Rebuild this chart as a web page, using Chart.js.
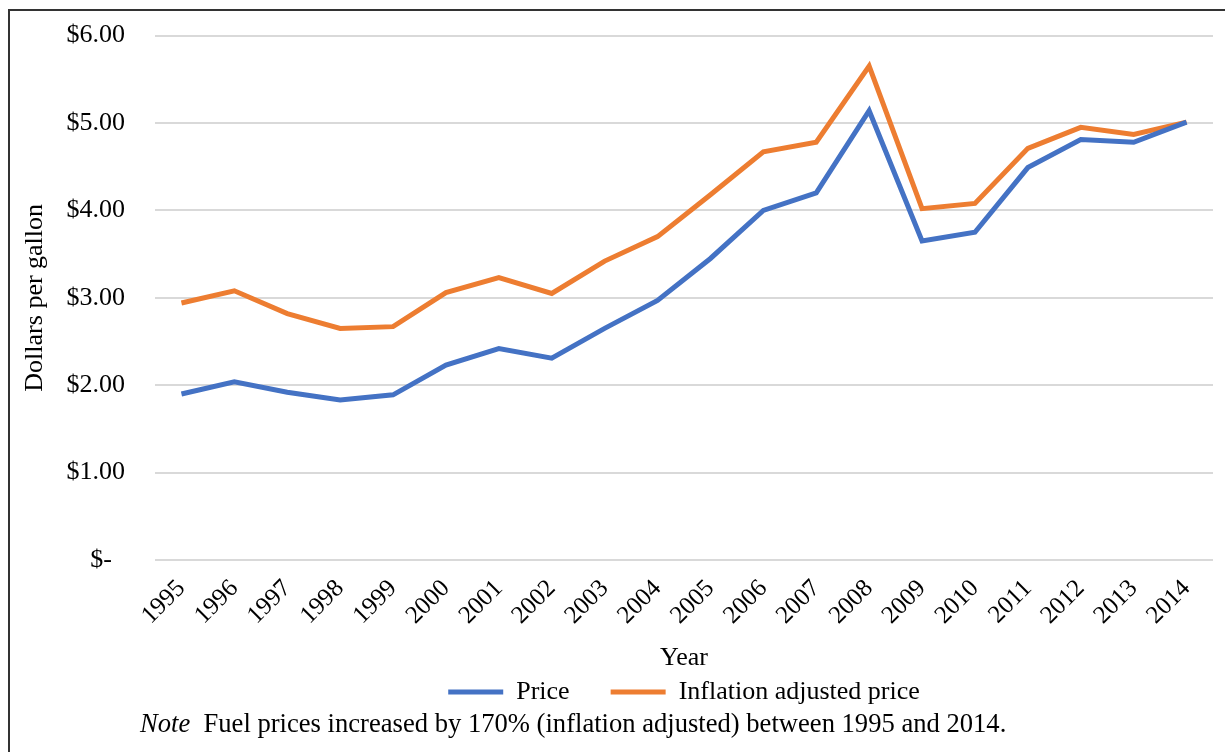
<!DOCTYPE html>
<html>
<head>
<meta charset="utf-8">
<script src="https://cdn.jsdelivr.net/npm/chart.js@4"></script>
<style>
  html, body { margin: 0; padding: 0; background: #fff; overflow: hidden; }
  #page { position: relative; width: 1225px; height: 752px; overflow: hidden; }
  #frame {
    position: absolute; left: 8px; top: 9px; width: 1400px; height: 900px;
    border-left: 2px solid #333; border-top: 2px solid #333;
  }
  #wrap { position: absolute; left: 0; top: -10px; width: 1225px; height: 725px; }
  #note {
    position: absolute; left: 140px; top: 708px;
    font-family: "Liberation Serif", serif; font-size: 26.6px; color: #000;
    white-space: pre; line-height: 30px;
  }
</style>
</head>
<body>
<div id="page">
  <div id="frame"></div>
  <div id="wrap"><canvas id="fuelChart"></canvas></div>
  <div id="note"><i>Note</i>  Fuel prices increased by 170% (inflation adjusted) between 1995 and 2014.</div>
</div>
<script>
// values
var years = ["1995", "1996", "1997", "1998", "1999", "2000", "2001", "2002", "2003", "2004",
             "2005", "2006", "2007", "2008", "2009", "2010", "2011", "2012", "2013", "2014"];
var price = [1.90, 2.04, 1.92, 1.83, 1.89, 2.23, 2.42, 2.31, 2.65, 2.97,
             3.45, 4.00, 4.20, 5.14, 3.65, 3.75, 4.49, 4.81, 4.78, 5.01];
var adjustedPrice = [2.94, 3.08, 2.82, 2.65, 2.67, 3.06, 3.23, 3.05, 3.42, 3.70,
                     4.18, 4.67, 4.78, 5.65, 4.02, 4.08, 4.71, 4.95, 4.87, 5.01];
var yTicks = [0, 1, 2, 3, 4, 5, 6];

var serif = "'Liberation Serif', 'Times New Roman', serif";

var ctx = document.getElementById('fuelChart').getContext('2d');
new Chart(ctx, {
    type: 'line',
    data: {
        labels: years,
        datasets: [{
            label: 'Price      ',
            data: price,
            borderColor: '#4472C4',
            backgroundColor: '#4472C4',
            borderWidth: 5,
            pointRadius: 0,
            tension: 0
        }, {
            label: 'Inflation adjusted price',
            data: adjustedPrice,
            borderColor: '#ED7D31',
            backgroundColor: '#ED7D31',
            borderWidth: 5,
            pointRadius: 0,
            tension: 0
        }]
    },
    options: {
        responsive: true,
        maintainAspectRatio: false,
        animation: false,
        layout: { padding: { left: 20, right: 12, top: 15, bottom: 0 } },
        plugins: {
            tooltip: { enabled: false },
            legend: {
                position: 'bottom',
                fullSize: false,
                labels: {
                    font: { family: serif, size: 26 },
                    color: '#000',
                    usePointStyle: true,
                    pointStyle: 'line',
                    pointStyleWidth: 55,
                    padding: 2
                }
            }
        },
        scales: {
            x: {
                offset: true,
                afterFit: function (axis) { axis.height = 117; },
                grid: { display: false, drawTicks: false },
                border: { display: false },
                ticks: {
                    font: { family: serif, size: 25 },
                    color: '#000',
                    minRotation: 45,
                    maxRotation: 45,
                    padding: 14
                },
                title: {
                    display: true,
                    text: 'Year',
                    font: { family: serif, size: 26 },
                    color: '#000',
                    padding: { top: 0, bottom: 3 }
                }
            },
            y: {
                min: 0,
                max: 6,
                afterBuildTicks: function (axis) {
                    axis.ticks = yTicks.map(function (v) { return { value: v }; });
                },
                afterFit: function (axis) { axis.width = 135; },
                grid: { color: '#d9d9d9', lineWidth: 2, drawTicks: false },
                border: { display: false },
                ticks: {
                    font: { family: serif, size: 26 },
                    color: '#000',
                    padding: 30,
                    callback: function (v) {
                        return v === 0 ? '$-  ' : '$' + v.toFixed(2);
                    }
                },
                title: {
                    display: true,
                    text: 'Dollars per gallon',
                    font: { family: serif, size: 26 },
                    color: '#000',
                    padding: 0
                }
            }
        }
    }
});
</script>
</body>
</html>
